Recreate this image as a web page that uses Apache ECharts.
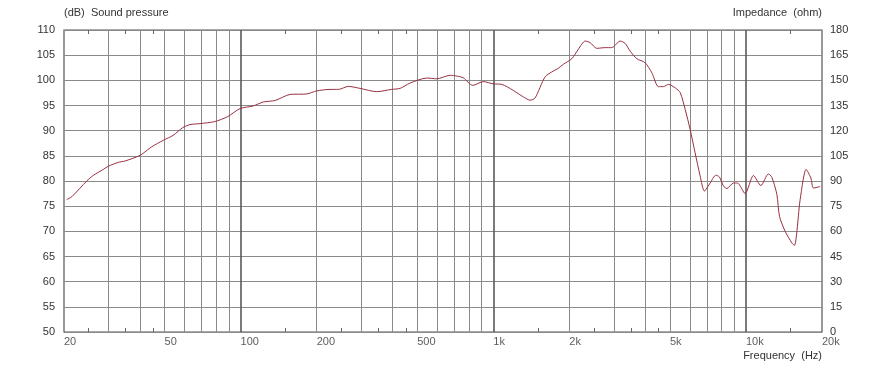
<!DOCTYPE html>
<html>
<head>
<meta charset="utf-8">
<script src="https://cdn.jsdelivr.net/npm/echarts@6/dist/echarts.min.js"></script>
<style>html,body{margin:0;padding:0;background:#fff}#c{width:886px;height:367px}</style>
</head>
<body>
<div id="c"></div>
<script>
// ---- data ----
var freqs = [20.5,21.5,24.6,26.1,28.6,30,32.8,35,40,44.5,49.5,54,59,63,69,79,89,99.5,112,123,137,157,183,200,226,244,267,297,346,396,428,468,545,597,675,717,761,830,914,1000,1080,1200,1316,1399,1464,1604,1729,1810,1895,2046,2173,2309,2417,2569,2771,2945,3177,3325,3480,3700,3990,4242,4505,4714,4934,5250,5494,5750,6013,6293,6588,6849,7216,7601,7855,8147,8403,8925,9256,9927,10707,11455,12274,12664,13260,13574,14297,15196,15559,16389,17311,18068,18502,19672];
var spl = [76.3,76.9,80.0,81.1,82.3,82.95,83.7,84.0,85.1,86.8,88.1,89.05,90.6,91.2,91.4,91.8,92.8,94.4,94.9,95.7,96.0,97.2,97.3,97.9,98.2,98.2,98.8,98.4,97.75,98.2,98.4,99.45,100.45,100.3,101.0,100.85,100.5,99.0,99.75,99.3,99.2,98.0,96.7,96.05,96.5,100.7,101.85,102.4,103.2,104.3,106.2,107.8,107.5,106.35,106.5,106.5,107.8,107.35,105.8,104.3,103.5,101.5,98.75,98.75,99.2,98.5,97.55,94.2,90.25,85.6,81.0,78.0,79.6,81.15,80.8,79.0,78.5,79.6,79.6,77.5,81.1,79.1,81.4,80.75,77.3,73.0,70.0,67.7,67.2,76.3,82.3,80.6,78.6,78.9];
var gridFreqs = [30,40,50,60,70,80,90,100,200,300,400,500,600,700,800,900,1000,2000,3000,4000,5000,6000,7000,8000,9000,10000];
var decadeFreqs = [100,1000,10000];
var minorFreqs = [25,35,45,150,250,350,450,1500,2500,3500,4500,15000];
var xLabelFreqs = [20,50,100,200,500,1000,2000,5000,10000,20000];
var xLabelTexts = ['20','50','100','200','500','1k','2k','5k','10k','20k'];
var splMin = 50, splMax = 110, splStep = 5;
var impMin = 0, impMax = 180, impStep = 15;

var FONT = 'Liberation Sans, Arial, sans-serif';
var TXT = '#333';
var chart = echarts.init(document.getElementById('c'));

var lineData = freqs.map(function(f,i){return [f, spl[i]];});

var gridMark = gridFreqs.map(function(f){
  var dec = decadeFreqs.indexOf(f) >= 0;
  return {xAxis: f, lineStyle: {color: dec ? '#5a5a5a' : '#8a8a8a', width: dec ? 1.6 : 1, type: 'solid'}};
});

chart.setOption({
  animation: false,
  backgroundColor: '#fff',
  title: [
    {text: '(dB)  Sound pressure', left: 64, top: 7, padding: 0,
     textStyle: {fontSize: 11, fontWeight: 'normal', color: TXT, fontFamily: FONT}},
    {text: 'Impedance  (ohm)', right: 64, top: 7, padding: 0,
     textStyle: {fontSize: 11, fontWeight: 'normal', color: TXT, fontFamily: FONT}},
    {text: 'Frequency  (Hz)', right: 64, top: 350, padding: 0,
     textStyle: {fontSize: 11, fontWeight: 'normal', color: TXT, fontFamily: FONT}}
  ],
  grid: {left: 64, right: 64, top: 30, bottom: 35, show: true, borderColor: '#555', borderWidth: 1.2, backgroundColor: '#fff'},
  xAxis: {
    type: 'log', logBase: 10, min: 20, max: 20000,
    axisLine: {show: false}, axisTick: {show: false}, axisLabel: {show: false},
    splitLine: {show: false}, minorSplitLine: {show: false}
  },
  yAxis: [
    {type: 'value', min: splMin, max: splMax, interval: splStep,
     axisLine: {show: false}, axisTick: {show: false},
     axisLabel: {margin: 9, fontSize: 11, color: TXT, fontFamily: FONT},
     splitLine: {show: true, lineStyle: {color: '#8a8a8a', width: 1}}},
    {type: 'value', min: impMin, max: impMax, interval: impStep, position: 'right',
     axisLine: {show: false}, axisTick: {show: false},
     axisLabel: {margin: 8, fontSize: 11, color: TXT, fontFamily: FONT},
     splitLine: {show: false}}
  ],
  series: [
    {
      type: 'line', data: [[20, splMin]], symbol: 'none', lineStyle: {width: 0}, silent: true, z: 1,
      markLine: {silent: true, symbol: 'none', label: {show: false}, animation: false, data: gridMark}
    },
    {
      type: 'custom', silent: true, z: 3,
      data: minorFreqs.map(function(f){return [f];}),
      renderItem: function(params, api){
        var f = api.value(0);
        var top = api.coord([f, splMax]);
        var bot = api.coord([f, splMin]);
        var x = Math.round(top[0]) + 0.5;
        return {type: 'group', children: [
          {type: 'line', shape: {x1: x, y1: top[1], x2: x, y2: top[1] + 4}, style: {stroke: '#666', lineWidth: 1}},
          {type: 'line', shape: {x1: x, y1: bot[1], x2: x, y2: bot[1] - 4}, style: {stroke: '#666', lineWidth: 1}}
        ]};
      }
    },
    {
      type: 'scatter', silent: true, symbolSize: 0, z: 4,
      data: xLabelFreqs.map(function(f,i){return {value: [f, splMin], name: xLabelTexts[i]};}),
      label: {show: true, position: 'bottom', distance: 4, align: 'left',
              formatter: function(p){return p.name;}, fontSize: 11, color: TXT, fontFamily: FONT}
    },
    {
      type: 'line', data: lineData, symbol: 'none', smooth: 0.25, z: 5,
      lineStyle: {color: '#9a3040', width: 1}
    }
  ]
});
</script>
</body>
</html>
